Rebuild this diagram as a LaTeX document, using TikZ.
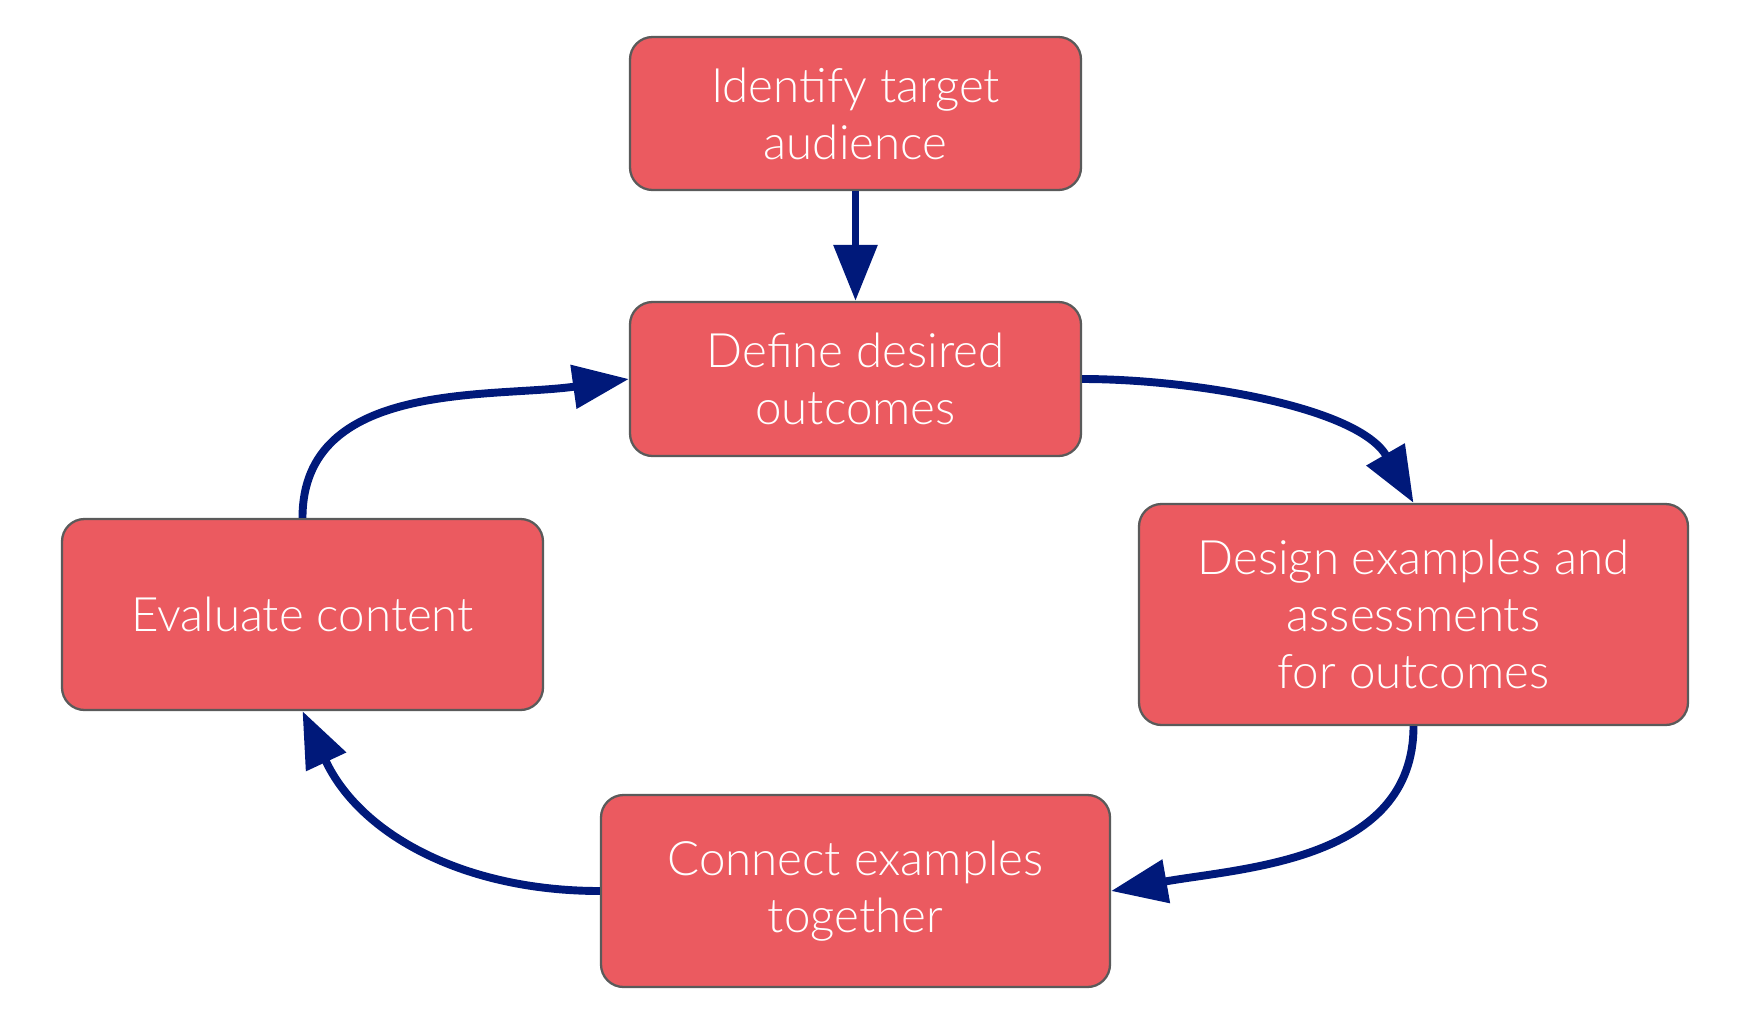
\documentclass[tikz,border=0pt]{standalone}
\usepackage{fontspec}
\setmainfont{Lato}[UprightFont=* Light]
\usetikzlibrary{arrows.meta}
\definecolor{boxred}{RGB}{235,90,96}
\definecolor{boxline}{RGB}{90,90,90}
\definecolor{flownavy}{RGB}{0,25,122}
\begin{document}
\begin{tikzpicture}[
    stepbox/.style={draw=boxline, line width=1.3pt, fill=boxred, rounded corners=0.45cm,
        text=white, align=center, inner sep=0pt,
        font=\fontsize{27}{32.5}\selectfont},
    flow/.style={draw=flownavy, line width=4.5pt,
        -{Triangle[length=1.12cm, width=0.85cm]}}
]
    \useasboundingbox (0,0) rectangle (35.12,-20.52);

    % Steps of the cycle
    \node[stepbox, minimum width=9.02cm, minimum height=3.06cm] (identify) at (17.11,-2.27)
        {Identify target\\audience};
    \node[stepbox, minimum width=9.02cm, minimum height=3.08cm] (define) at (17.11,-7.58)
        {Define desired\\outcomes};
    \node[stepbox, minimum width=10.98cm, minimum height=4.42cm] (design) at (28.27,-12.29)
        {Design examples and\\assessments\\for outcomes};
    \node[stepbox, minimum width=10.18cm, minimum height=3.84cm] (connect) at (17.11,-17.82)
        {Connect examples\\together};
    \node[stepbox, minimum width=9.62cm, minimum height=3.82cm] (evaluate) at (6.05,-12.29)
        {Evaluate content};

    % Entry arrow
    \draw[flow] (identify) -- (define);

    % Loop
    \draw[flow] (define.east) to[out=0, in=120, looseness=0.8] (design.north);
    \draw[flow] (design.south) to[out=-90, in=10] (connect.east);
    \draw[flow] (connect.west) to[out=180, in=-65] (evaluate.south);
    \draw[flow] (evaluate.north) to[out=90, in=188] (define.west);
\end{tikzpicture}
\end{document}
